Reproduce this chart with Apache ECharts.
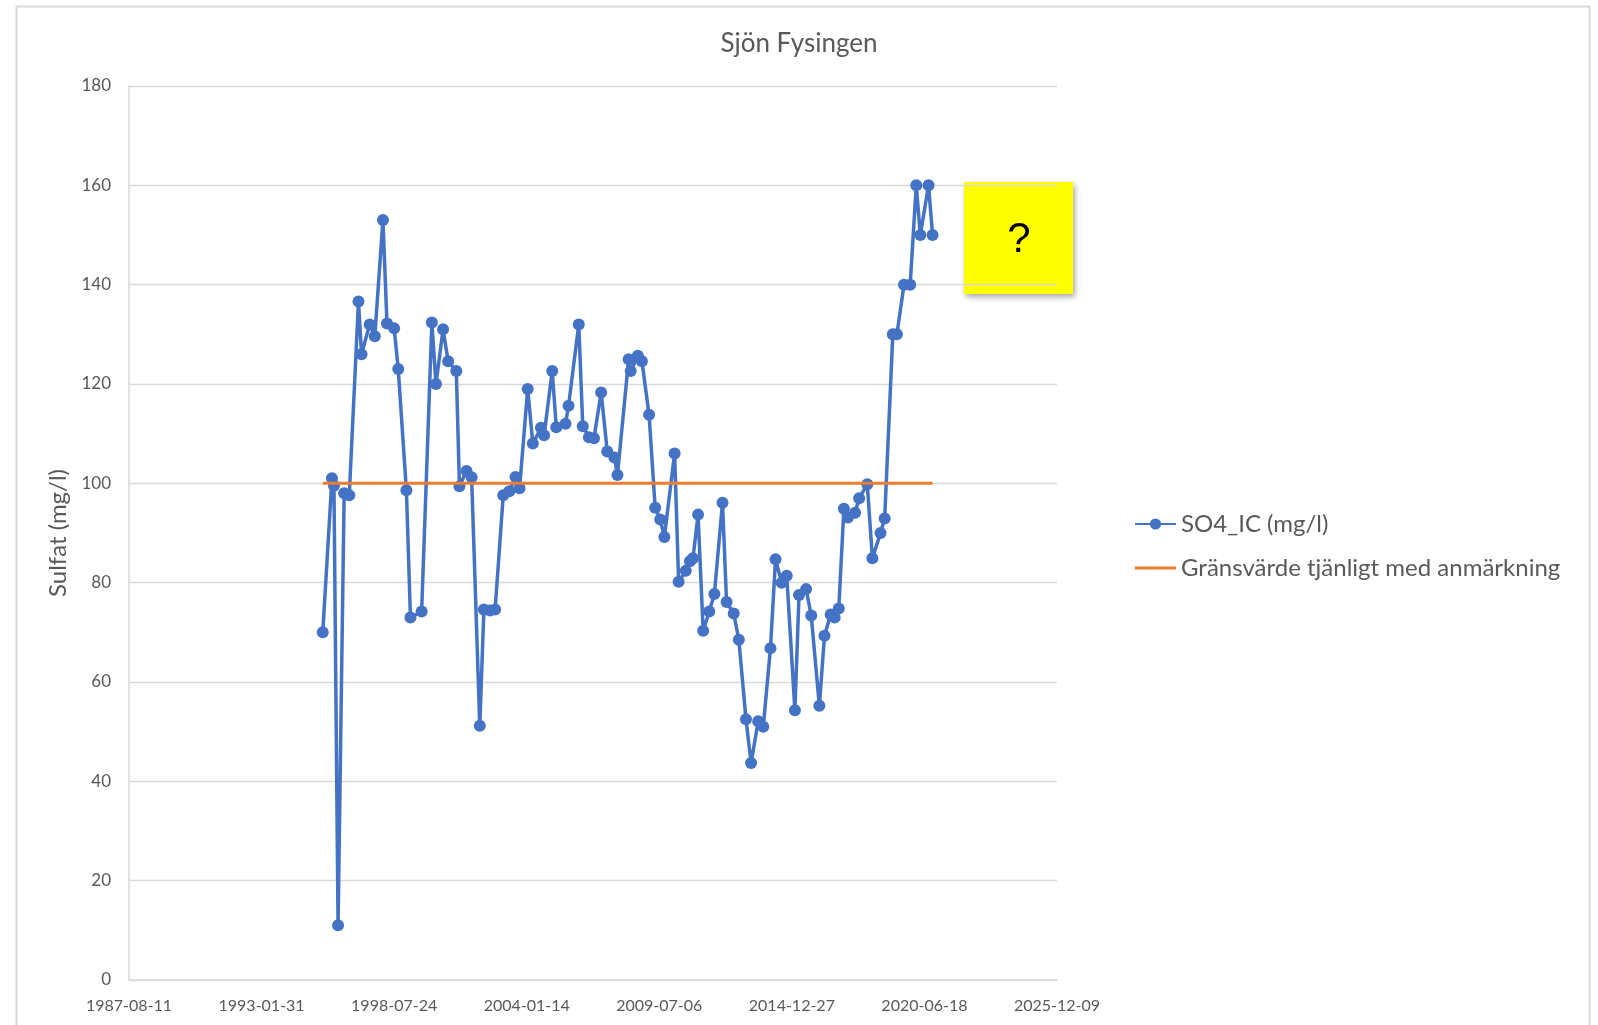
<!DOCTYPE html>
<html>
<head>
<meta charset="utf-8">
<script src="https://cdn.jsdelivr.net/npm/echarts@6/dist/echarts.min.js"></script>
<style>
  html, body { margin: 0; padding: 0; background: #fff; }
  #chart { width: 1598px; height: 1025px; }
</style>
</head>
<body>
<div id="chart"></div>
<script>
// Sample dates as Excel serial day numbers (1900 date system)
const sampleDates = [
  34923, 35062, 35092, 35154, 35246, 35323, 35462, 35508, 35631, 35708,
  35831, 35892, 36000, 36062, 36185, 36246, 36415, 36569, 36631, 36738,
  36815, 36938, 36985, 37092, 37169, 37292, 37354, 37446, 37523, 37646,
  37738, 37831, 37892, 38015, 38092, 38215, 38262, 38385, 38446, 38585,
  38631, 38785, 38846, 38938, 39015, 39123, 39215, 39323, 39369, 39538,
  39569, 39677, 39738, 39846, 39938, 40015, 40077, 40231, 40292, 40400,
  40462, 40508, 40585, 40662, 40754, 40831, 40954, 41015, 41123, 41200,
  41308, 41385, 41492, 41569, 41677, 41754, 41846, 41923, 42046, 42108,
  42215, 42292, 42415, 42492, 42585, 42646, 42708, 42785, 42846, 42954,
  43015, 43138, 43215, 43338, 43400, 43523, 43585, 43692, 43785, 43877,
  43938, 44062, 44123
];
// SO4_IC (mg/l)
const so4Values = [
  70, 101, 99.5, 11, 98, 97.6, 136.6, 126, 132, 129.6,
  153, 132.2, 131.2, 123, 98.6, 73, 74.2, 132.4, 120, 131,
  124.6, 122.6, 99.4, 102.5, 101.2, 51.2, 74.6, 74.4, 74.6, 97.6,
  98.4, 101.3, 99, 119, 108, 111.2, 109.7, 122.6, 111.3, 112,
  115.6, 132, 111.5, 109.3, 109.1, 118.3, 106.4, 105.2, 101.7, 125,
  122.6, 125.7, 124.6, 113.8, 95.1, 92.7, 89.2, 106, 80.2, 82.4,
  84.3, 84.9, 93.7, 70.3, 74.2, 77.7, 96.1, 76.1, 73.8, 68.5,
  52.5, 43.7, 52.1, 51, 66.8, 84.7, 80, 81.4, 54.3, 77.5,
  78.7, 73.4, 55.2, 69.3, 73.6, 73, 74.8, 94.9, 93.1, 94.1,
  97, 99.8, 84.9, 90, 92.9, 130, 130, 140, 140, 160,
  150, 160, 150
];
// Gränsvärde tjänligt med anmärkning
const limitValue = 100;
const yTicks = [0, 20, 40, 60, 80, 100, 120, 140, 160, 180];
const xTickStart = 32000, xTickEnd = 46000, xTickStep = 2000;

function serialToDate(s) {
  const d = new Date(Math.round((s - 25569) * 86400000));
  return d.toISOString().slice(0, 10);
}

const so4Data = sampleDates.map((d, i) => [d, so4Values[i]]);
const limitData = [[sampleDates[0], limitValue], [sampleDates[sampleDates.length - 1], limitValue]];

const font = 'Lato, "Open Sans", "Noto Sans", sans-serif';
const chart = echarts.init(document.getElementById('chart'), null, { renderer: 'canvas' });
chart.setOption({
  backgroundColor: '#ffffff',
  animation: false,
  title: {
    text: 'Sjön Fysingen',
    left: 'center', top: 26,
    textStyle: { fontFamily: font, fontSize: 26, fontWeight: 'normal', color: '#595959' }
  },
  legend: {
    orient: 'vertical',
    left: 1129, top: 507,
    itemWidth: 41, itemHeight: 14, itemGap: 20,
    textStyle: { fontFamily: font, fontSize: 24, color: '#595959' },
    data: [
      { name: 'SO4_IC (mg/l)' },
      { name: 'Gränsvärde tjänligt med anmärkning', icon: 'path://M0,0 L40,0 L40,3 L0,3 Z' }
    ]
  },
  grid: { left: 129, top: 86, width: 928, height: 894, containLabel: false },
  xAxis: {
    type: 'value',
    min: xTickStart, max: xTickEnd, interval: xTickStep,
    axisLine: { show: true, lineStyle: { color: '#d9d9d9', width: 1.5 } },
    axisTick: { show: false },
    splitLine: { show: false },
    axisLabel: {
      margin: 18, fontFamily: font, fontSize: 16, color: '#595959',
      formatter: v => serialToDate(v)
    }
  },
  yAxis: {
    type: 'value',
    min: yTicks[0], max: yTicks[yTicks.length - 1], interval: 20,
    name: 'Sulfat (mg/l)',
    nameLocation: 'middle', nameGap: 55, nameRotate: 90,
    nameTextStyle: { fontFamily: font, fontSize: 24, color: '#595959' },
    axisLine: { show: true, lineStyle: { color: '#d9d9d9', width: 1.5 } },
    axisTick: { show: false },
    splitLine: { show: true, lineStyle: { color: '#d9d9d9', width: 1.3 } },
    axisLabel: { margin: 18, fontFamily: font, fontSize: 17, color: '#595959' }
  },
  series: [
    {
      name: 'SO4_IC (mg/l)',
      type: 'line',
      data: so4Data,
      color: '#4472C4',
      symbol: 'circle', symbolSize: 12, showAllSymbol: true,
      lineStyle: { width: 3.5, color: '#4472C4' },
      itemStyle: { color: '#4472C4' },
      z: 3
    },
    {
      name: 'Gränsvärde tjänligt med anmärkning',
      type: 'line',
      data: limitData,
      color: '#ED7D31',
      symbol: 'none',
      lineStyle: { width: 3, color: '#ED7D31' },
      itemStyle: { color: '#ED7D31' },
      z: 4
    }
  ],
  graphic: [
    {
      type: 'rect', left: 14, top: 4, z: -1,
      shape: { width: 1573, height: 1040 },
      style: { fill: 'none', stroke: '#d9d9d9', lineWidth: 2 }
    },
    {
      type: 'group', left: 964, top: 182, z: 100,
      children: [
        {
          type: 'rect',
          shape: { width: 109, height: 112 },
          style: { fill: '#ffff00', shadowBlur: 6, shadowOffsetX: 2, shadowOffsetY: 3, shadowColor: 'rgba(0,0,0,0.35)' }
        },
        {
          type: 'text', x: 55, y: 58,
          style: { text: '?', fontFamily: '"Liberation Sans", Arial, sans-serif', fontSize: 42, fill: '#000', align: 'center', verticalAlign: 'middle' }
        }
      ]
    }
  ]
});
</script>
</body>
</html>
